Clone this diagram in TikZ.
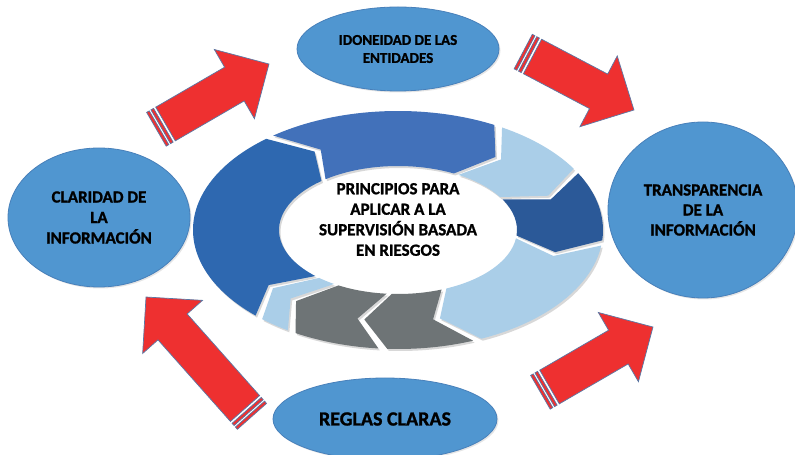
\documentclass[tikz,border=0pt]{standalone}
\usepackage{fontspec}
\setmainfont{Carlito}[BoldFeatures={FakeBold=1.2}]
\usetikzlibrary{calc,shapes.geometric,shadows}
\definecolor{ellblue}{RGB}{80,150,208}
\definecolor{elledge}{RGB}{72,128,186}
\definecolor{segA}{RGB}{46,104,176}
\definecolor{segB}{RGB}{66,113,186}
\definecolor{segL}{RGB}{170,206,232}
\definecolor{segD}{RGB}{43,89,152}
\definecolor{segG}{RGB}{110,116,118}
\definecolor{arrred}{RGB}{238,48,48}
\definecolor{arredge}{RGB}{90,120,165}
\newcommand\ringseg[3]{%
  \fill[#3, segshadow] ($(rc)+(#1:205 and 119)$) arc[start angle=#1, end angle=#2, x radius=205, y radius=119]
    -- ($(rc)+({#2-9}:162 and 91.5)$) -- ($(rc)+(#2:119 and 64)$)
    arc[start angle=#2, end angle=#1, x radius=119, y radius=64]
    -- ($(rc)+({#1-9}:162 and 91.5)$) -- cycle;}
\newcommand\blockarrow[3]{%
  \begin{scope}[shift={(#1)}, rotate=#2]
    \filldraw[arrowbody] (0,-19.5) -- ({#3-40},-19.5) -- ({#3-40},-40) -- (#3,0)
      -- ({#3-40},40) -- ({#3-40},19.5) -- (0,19.5) -- cycle;
    \filldraw[arrowbody] (-5.5,-19.5) rectangle (-2.5,19.5);
    \filldraw[arrowbody] (-10.5,-19.5) rectangle (-7.5,19.5);
  \end{scope}}
\tikzset{
  ell/.style={ellipse, fill=ellblue, draw=elledge, line width=0.8pt, inner sep=0pt,
    align=center, text=black, font=\bfseries,
    drop shadow={shadow xshift=1.5pt, shadow yshift=-1.5pt, opacity=0.2}},
  segshadow/.style={drop shadow={shadow xshift=1.5pt, shadow yshift=-2pt, opacity=0.3}},
  arrowbody/.style={fill=arrred, draw=arredge, line width=0.7pt, line join=miter},
}
\begin{document}
\begin{tikzpicture}[x=1pt,y=1pt]
\useasboundingbox (0,0) rectangle (795,455);
\fill[white] (0,0) rectangle (795,455);

% ring
\coordinate (rc) at (398,225);
\ringseg{226}{130}{segA}
\ringseg{127.5}{62}{segB}
\ringseg{59.5}{31}{segL}
\ringseg{28.5}{-5}{segD}
\ringseg{-7.5}{-66}{segL}
\ringseg{-68.5}{-93}{segG}
\ringseg{-95.5}{-120}{segG}
\ringseg{-122.5}{-131.5}{segL}

\node[align=center, font=\fontsize{17}{20.5}\selectfont\bfseries] (center) at (398,235.5)
  {PRINCIPIOS PARA\\APLICAR A LA\\SUPERVISIÓN BASADA\\EN RIESGOS};

% outer ellipses
\node[ell, minimum width=202pt, minimum height=84pt, font=\fontsize{15}{18}\selectfont\bfseries] (idon) at (398,406)
  {IDONEIDAD DE LAS\\ENTIDADES};
\node[ell, minimum width=182pt, minimum height=139pt, font=\fontsize{17}{20.5}\selectfont\bfseries] (clar) at (99,237.5)
  {CLARIDAD DE\\LA\\INFORMACIÓN};
\node[ell, minimum width=190pt, minimum height=176pt, font=\fontsize{17}{20}\selectfont\bfseries] (trans) at (703,245)
  {TRANSPARENCIA\\DE LA\\INFORMACIÓN};
\node[ell, minimum width=224pt, minimum height=82pt, font=\fontsize{20}{24}\selectfont\bfseries] (reglas) at (385,36)
  {REGLAS CLARAS};

% red block arrows
\coordinate (t1) at (165.5,331); \coordinate (p1) at (269,391);
\coordinate (t2) at (532.5,398.5); \coordinate (p2) at (634,345);
\coordinate (t3) at (245,46.5); \coordinate (p3) at (146,158);
\coordinate (t4) at (549.5,68); \coordinate (p4) at (653,128);
\blockarrow{t1}{30.1}{119.6}
\blockarrow{t2}{-27.8}{114.7}
\blockarrow{t3}{131.6}{149.1}
\blockarrow{t4}{30.1}{119.6}
\end{tikzpicture}
\end{document}
